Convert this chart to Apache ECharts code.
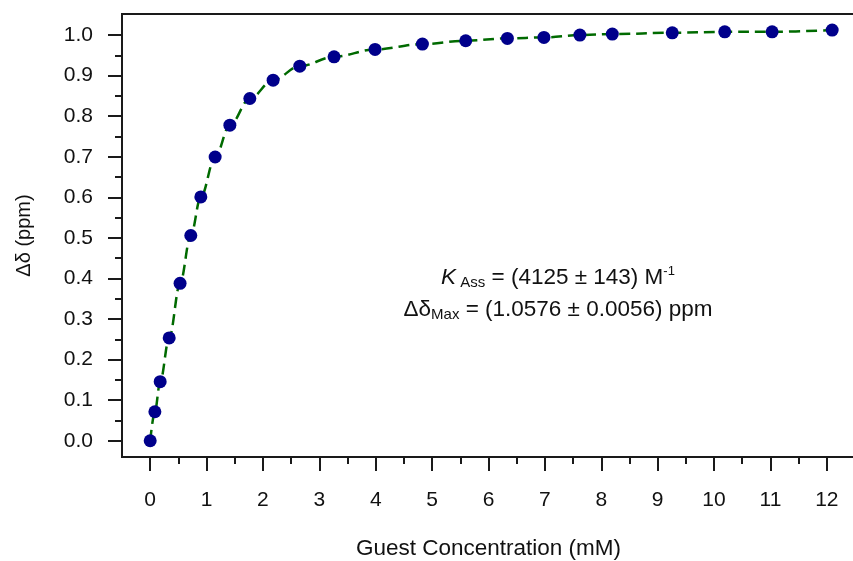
<!DOCTYPE html>
<html>
<head>
<meta charset="utf-8">
<script src="https://cdn.jsdelivr.net/npm/echarts@6/dist/echarts.min.js"></script>
<style>html,body{margin:0;padding:0;background:#fff;}#c{width:853px;height:561px;}</style>
</head>
<body>
<div id="c"></div>
<script>
// Guest concentration (mM)
var conc = [0, 0.083, 0.177, 0.337, 0.53, 0.72, 0.898, 1.152, 1.413, 1.767, 2.18, 2.653, 3.261, 3.988, 4.828, 5.596, 6.335, 6.983, 7.621, 8.196, 9.259, 10.19, 11.03, 12.095];
// Chemical shift change Δδ (ppm)
var shift = [0, 0.0716, 0.1457, 0.2536, 0.388, 0.506, 0.601, 0.6995, 0.778, 0.8437, 0.889, 0.9235, 0.9464, 0.9647, 0.9778, 0.986, 0.9919, 0.9943, 1.0, 1.0025, 1.0057, 1.008, 1.008, 1.0123];
var xTicks = [0,1,2,3,4,5,6,7,8,9,10,11,12];
var xMinorTicks = [0.5,1.5,2.5,3.5,4.5,5.5,6.5,7.5,8.5,9.5,10.5,11.5];
var yTicks = [0,0.1,0.2,0.3,0.4,0.5,0.6,0.7,0.8,0.9,1.0];
var yMinorTicks = [0.05,0.15,0.25,0.35,0.45,0.55,0.65,0.75,0.85,0.95];
var xTitle = 'Guest Concentration (mM)';
var yTitle = 'Δδ (ppm)';

var pts = conc.map(function(x,i){return [x, shift[i]];});
var FONT = 'Liberation Sans, Arial, sans-serif';
var chart = echarts.init(document.getElementById('c'), null, {renderer:'canvas'});
var tickCol = '#1a1a1a';
var txtCol = '#111';
chart.setOption({
  animation:false,
  backgroundColor:'#fff',
  grid:{left:122, top:14, right:-2, bottom:104, outerBoundsMode:'none', containLabel:false,
    show:true, borderColor:tickCol, borderWidth:2, backgroundColor:'transparent'},
  xAxis:[{
    type:'value', min:-0.5, max:12.5,
    axisLine:{show:true, onZero:false, lineStyle:{color:tickCol, width:2}},
    axisTick:{show:true, customValues:xTicks, length:14, lineStyle:{color:tickCol, width:2}},
    axisLabel:{show:true, customValues:xTicks, margin:33, fontSize:21, color:txtCol, fontFamily:FONT},
    splitLine:{show:false},
    name:xTitle, nameLocation:'middle', nameGap:80,
    nameTextStyle:{fontSize:22.5, color:txtCol, fontFamily:FONT}
  },{
    type:'value', min:-0.5, max:12.5, position:'bottom',
    axisLine:{show:false, onZero:false},
    axisTick:{show:true, customValues:xMinorTicks, length:7, lineStyle:{color:tickCol, width:2}},
    axisLabel:{show:false}, splitLine:{show:false}
  }],
  yAxis:[{
    type:'value', min:-0.04, max:1.052,
    axisLine:{show:true, onZero:false, lineStyle:{color:tickCol, width:2}},
    axisTick:{show:true, customValues:yTicks, length:14, lineStyle:{color:tickCol, width:2}},
    axisLabel:{show:true, customValues:yTicks, margin:29, fontSize:21, color:txtCol, fontFamily:FONT,
      formatter:function(v){return v.toFixed(1);}},
    splitLine:{show:false},
    name:yTitle, nameLocation:'middle', nameGap:88,
    nameTextStyle:{fontSize:20, color:txtCol, fontFamily:FONT}
  },{
    type:'value', min:-0.04, max:1.052, position:'left',
    axisLine:{show:false, onZero:false},
    axisTick:{show:true, customValues:yMinorTicks, length:7, lineStyle:{color:tickCol, width:2}},
    axisLabel:{show:false}, splitLine:{show:false}
  }],
  series:[{
    type:'line', data:pts, smooth:0.35, smoothMonotone:'x', showSymbol:false, symbol:'none',
    lineStyle:{color:'#006a00', width:2.5, type:[11,6]}, z:2, silent:true
  },{
    type:'scatter', data:pts, symbol:'circle', symbolSize:13,
    itemStyle:{color:'#00008b', opacity:1}, z:3
  }],
  graphic:[{
    type:'text', x:558, y:278, z:10,
    style:{
      text:'{k|K}{sub| Ass}{n| = (4125 ± 143) M}{sup|-1}',
      align:'center', verticalAlign:'middle', fill:txtCol,
      rich:{
        k:{fontSize:22.5, fontStyle:'italic', fontFamily:FONT, fill:txtCol},
        n:{fontSize:22.5, fontFamily:FONT, fill:txtCol},
        sub:{fontSize:15, fontFamily:FONT, fill:txtCol, padding:[10,0,0,0]},
        sup:{fontSize:13, fontFamily:FONT, fill:txtCol, padding:[0,0,13,0]}
      }
    }
  },{
    type:'text', x:558, y:310, z:10,
    style:{
      text:'{n|Δδ}{sub|Max}{n| = (1.0576 ± 0.0056) ppm}',
      align:'center', verticalAlign:'middle', fill:txtCol,
      rich:{
        n:{fontSize:22.5, fontFamily:FONT, fill:txtCol},
        sub:{fontSize:15, fontFamily:FONT, fill:txtCol, padding:[10,0,0,0]}
      }
    }
  }]
});
</script>
</body>
</html>
